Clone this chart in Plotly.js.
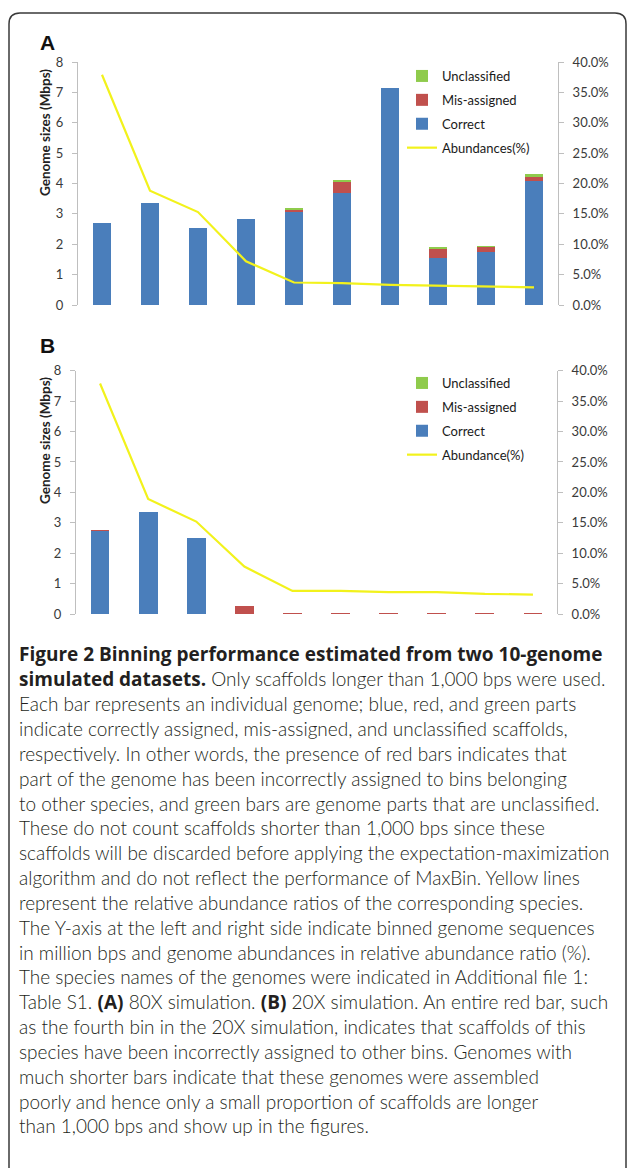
<!DOCTYPE html>
<html>
<head>
<meta charset="utf-8">
<script src="https://cdn.plot.ly/plotly-3.0.1.min.js"></script>
<style>
html,body{margin:0;padding:0;background:#fff;}
#chart{width:630px;height:1168px;}
</style>
</head>
<body>
<div id="chart"></div>
<script>
// ---------- DATA ----------
const genomes = ['G1','G2','G3','G4','G5','G6','G7','G8','G9','G10'];

// Panel A: 80X simulation (Mbps)
const correctA      = [2.71, 3.36, 2.52, 2.83, 3.07, 3.69, 7.13, 1.56, 1.75, 4.09];
const misassignedA  = [0.00, 0.00, 0.00, 0.00, 0.06, 0.35, 0.00, 0.27, 0.15, 0.13];
const unclassifiedA = [0.00, 0.00, 0.00, 0.00, 0.05, 0.09, 0.02, 0.07, 0.04, 0.09];
const abundanceA    = [0.379, 0.188, 0.153, 0.072, 0.037, 0.036, 0.033, 0.032, 0.030, 0.029];

// Panel B: 20X simulation (Mbps)
const correctB      = [2.72, 3.37, 2.51, 0.00, 0.00, 0.00, 0.00, 0.00, 0.00, 0.00];
const misassignedB  = [0.03, 0.00, 0.00, 0.25, 0.03, 0.03, 0.03, 0.03, 0.03, 0.03];
const unclassifiedB = [0.00, 0.00, 0.00, 0.00, 0.00, 0.00, 0.00, 0.00, 0.00, 0.00];
const abundanceB    = [0.379, 0.189, 0.152, 0.078, 0.038, 0.038, 0.036, 0.036, 0.033, 0.032];

const leftTicks  = [0,1,2,3,4,5,6,7,8];
const rightTicks = [0,0.05,0.10,0.15,0.20,0.25,0.30,0.35,0.40];

const B_ON = '<span style="font-family:Open Sans;font-weight:bold">';
const B_OFF = '</span>';
const captionLines = [
  B_ON + 'Figure 2 Binning performance estimated from two 10-genome' + B_OFF,
  B_ON + 'simulated datasets.' + B_OFF + ' Only scaffolds longer than 1,000 bps were used.',
  'Each bar represents an individual genome; blue, red, and green parts',
  'indicate correctly assigned, mis-assigned, and unclassified scaffolds,',
  'respectively. In other words, the presence of red bars indicates that',
  'part of the genome has been incorrectly assigned to bins belonging',
  'to other species, and green bars are genome parts that are unclassified.',
  'These do not count scaffolds shorter than 1,000 bps since these',
  'scaffolds will be discarded before applying the expectation-maximization',
  'algorithm and do not reflect the performance of MaxBin. Yellow lines',
  'represent the relative abundance ratios of the corresponding species.',
  'The Y-axis at the left and right side indicate binned genome sequences',
  'in million bps and genome abundances in relative abundance ratio (%).',
  'The species names of the genomes were indicated in Additional file 1:',
  'Table S1. ' + B_ON + '(A)' + B_OFF + ' 80X simulation. ' + B_ON + '(B)' + B_OFF + ' 20X simulation. An entire red bar, such',
  'as the fourth bin in the 20X simulation, indicates that scaffolds of this',
  'species have been incorrectly assigned to other bins. Genomes with',
  'much shorter bars indicate that these genomes were assembled',
  'poorly and hence only a small proportion of scaffolds are longer',
  'than 1,000 bps and show up in the figures.'
];

// ---------- STYLE ----------
const W = 630, H = 1168;
const px = x => x / W;
const py = y => 1 - y / H;
const BLUE = '#4a7ebb', RED = '#c0504d', GREEN = '#8fcb4c', YELLOW = '#f2f21c';
const AXC = '#bfbfbf';
const FONT = 'Lato, "Open Sans", sans-serif';

function barTrace(vals, name, color, xa, ya, leg, group, rank) {
  return {type:'bar', x:genomes, y:vals, name:name, marker:{color:color, line:{width:0}},
          xaxis:xa, yaxis:ya, legend:leg, legendgroup:group, legendrank:rank, hoverinfo:'skip'};
}
function lineTrace(vals, name, xa, ya, leg) {
  return {type:'scatter', mode:'lines', x:genomes, y:vals, name:name,
          line:{color:YELLOW, width:2.2}, xaxis:xa, yaxis:ya, legend:leg,
          legendgroup:leg+'ab', legendrank:4, cliponaxis:false, hoverinfo:'skip'};
}

const data = [
  barTrace(correctA, 'Correct', BLUE, 'x', 'y', 'legend', 'ac', 3),
  barTrace(misassignedA, 'Mis-assigned', RED, 'x', 'y', 'legend', 'am', 2),
  barTrace(unclassifiedA, 'Unclassified', GREEN, 'x', 'y', 'legend', 'au', 1),
  lineTrace(abundanceA, 'Abundances(%)', 'x', 'y2', 'legend'),
  barTrace(correctB, 'Correct', BLUE, 'x2', 'y3', 'legend2', 'bc', 3),
  barTrace(misassignedB, 'Mis-assigned', RED, 'x2', 'y3', 'legend2', 'bm', 2),
  barTrace(unclassifiedB, 'Unclassified', GREEN, 'x2', 'y3', 'legend2', 'bu', 1),
  lineTrace(abundanceB, 'Abundance(%)', 'x2', 'y4', 'legend2')
];

const tickFont = {family:FONT, size:13, color:'#3a3a3a'};
function leftAxis(domain, anchor) {
  return {domain:domain, anchor:anchor, range:[0,8], tickvals:leftTicks, showline:true,
          linecolor:AXC, linewidth:1, ticks:'outside', ticklen:5, tickcolor:AXC,
          showgrid:false, zeroline:false, tickfont:tickFont, ticklabelstandoff:6,
          automargin:false, fixedrange:true};
}
function rightAxis(over, anchor) {
  return {overlaying:over, anchor:anchor, side:'right', range:[0,0.4], tickvals:rightTicks,
          tickformat:'.1%', showline:true, linecolor:AXC, linewidth:1, ticks:'outside',
          ticklen:5, tickcolor:AXC, showgrid:false, zeroline:false, tickfont:tickFont,
          ticklabelstandoff:6, automargin:false, fixedrange:true};
}
function xAxis(domain, anchor) {
  return {domain:domain, anchor:anchor, type:'category', range:[-0.5,9.5], showline:false,
          showticklabels:false, ticks:'', showgrid:false, zeroline:false, automargin:false, fixedrange:true};
}
function legendCfg(topPx) {
  return {x:px(402), xanchor:'left', y:py(topPx), yanchor:'top', bgcolor:'rgba(0,0,0,0)',
          font:{family:FONT, size:13, color:'#1a1a1a'}, traceorder:'grouped',
          tracegroupgap:4, borderwidth:0};
}

const annotations = [
  {text:'<b>A</b>', x:px(39), y:py(30), xref:'paper', yref:'paper', xanchor:'left', yanchor:'top',
   showarrow:false, borderpad:0, font:{family:'Liberation Sans, Arial, sans-serif', size:21, color:'#111'}},
  {text:'<b>B</b>', x:px(39), y:py(333), xref:'paper', yref:'paper', xanchor:'left', yanchor:'top',
   showarrow:false, borderpad:0, font:{family:'Liberation Sans, Arial, sans-serif', size:21, color:'#111'}},
  {text:'<b>Genome sizes (Mbps)</b>', x:px(45), y:py(133), xref:'paper', yref:'paper',
   xanchor:'center', yanchor:'middle', borderpad:0,
   showarrow:false, textangle:-90, font:{family:FONT, size:13.5, color:'#222'}},
  {text:'<b>Genome sizes (Mbps)</b>', x:px(45), y:py(441), xref:'paper', yref:'paper',
   xanchor:'center', yanchor:'middle', borderpad:0,
   showarrow:false, textangle:-90, font:{family:FONT, size:13.5, color:'#222'}}
];
captionLines.forEach((t, i) => {
  annotations.push({text:t, x:px(18), y:py(654 + i*24.84), xref:'paper', yref:'paper',
    xanchor:'left', yanchor:'middle', showarrow:false, align:'left', borderpad:0,
    font:{family:FONT, size:19, color:'#231f20', weight:300}});
});

// frame around figure
const framePath = 'M ' + px(9) + ',' + py(1168) + ' L ' + px(9) + ',' + py(24) +
  ' Q ' + px(9) + ',' + py(13) + ' ' + px(20) + ',' + py(13) +
  ' L ' + px(615) + ',' + py(13) + ' Q ' + px(626) + ',' + py(13) + ' ' + px(626) + ',' + py(24) +
  ' L ' + px(626) + ',' + py(1168);

const layout = {
  width:W, height:H, margin:{l:0,r:0,t:0,b:0,autoexpand:false}, paper_bgcolor:'#fff', plot_bgcolor:'rgba(0,0,0,0)',
  barmode:'stack', bargap:0.61, showlegend:true,
  font:{family:FONT, color:'#222'},
  xaxis: xAxis([px(78), px(558)], 'y'),
  yaxis: leftAxis([py(305), py(62)], 'x'),
  yaxis2: rightAxis('y', 'x'),
  xaxis2: xAxis([px(76), px(557)], 'y3'),
  yaxis3: leftAxis([py(614), py(370.7)], 'x2'),
  yaxis4: rightAxis('y3', 'x2'),
  legend: legendCfg(61),
  legend2: legendCfg(368),
  annotations: annotations,
  shapes: [{type:'path', path:framePath, xref:'paper', yref:'paper',
            line:{color:'#3a3a3a', width:1.5}, fillcolor:'rgba(0,0,0,0)'}]
};

Plotly.newPlot('chart', data, layout, {staticPlot:true, displayModeBar:false});
</script>
</body>
</html>
